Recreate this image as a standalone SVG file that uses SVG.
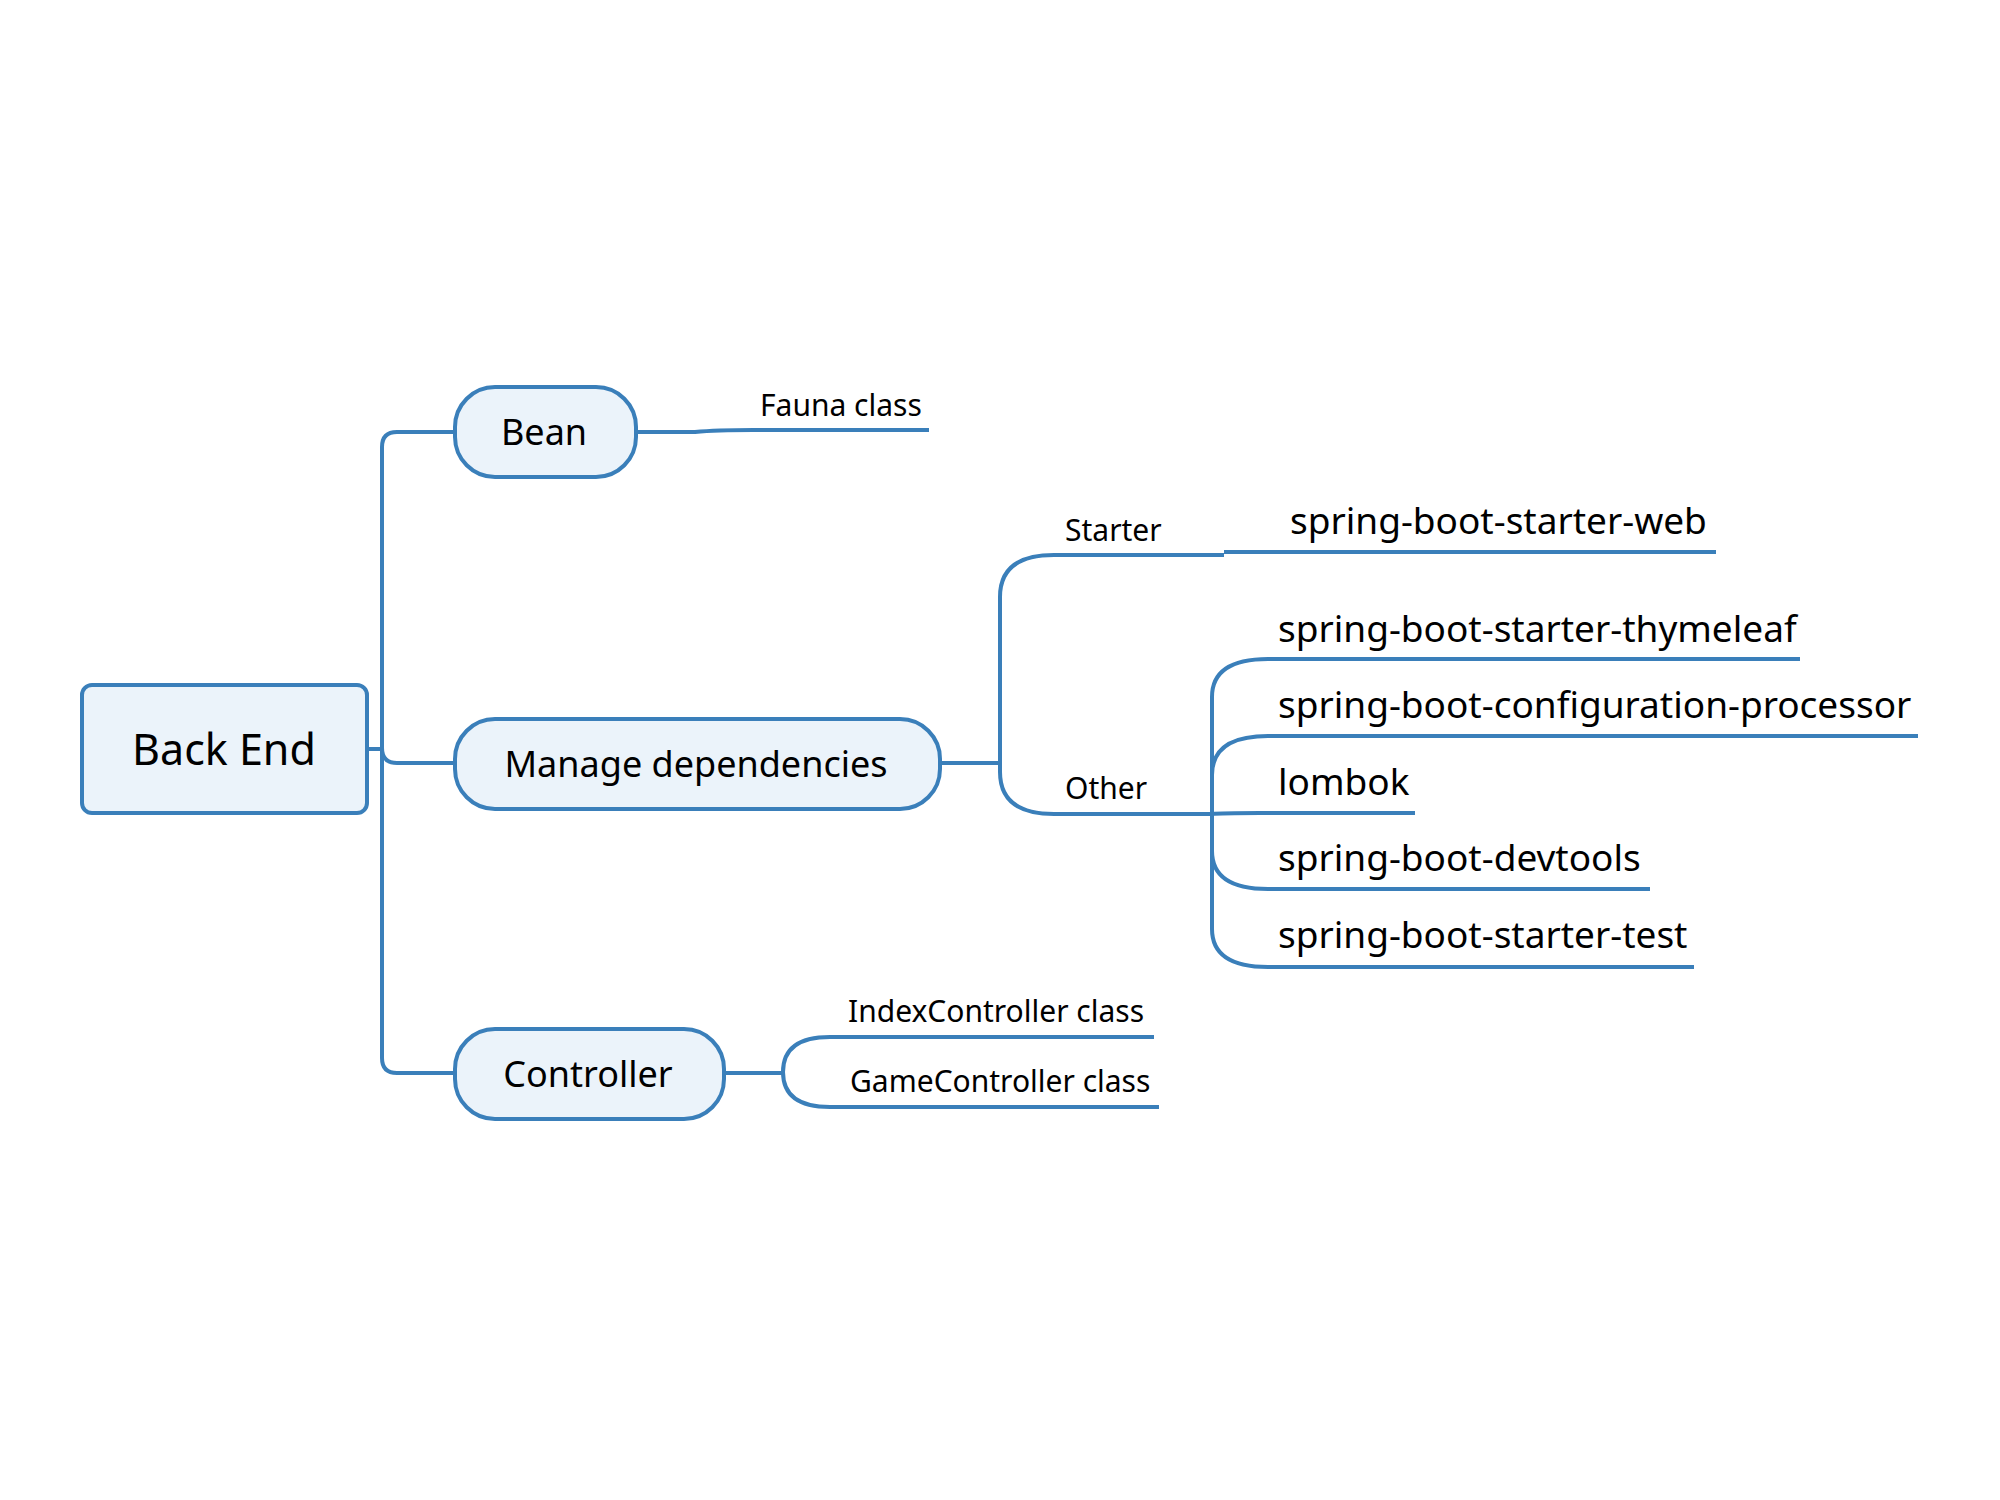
<svg xmlns="http://www.w3.org/2000/svg" width="2000" height="1500" viewBox="0 0 2000 1500">
<style>
.node{fill:#EBF3FA;stroke:#3A7FBA;stroke-width:4}
.c{fill:none;stroke:#3A7FBA;stroke-width:4}
text{font-family:"Noto Sans","Open Sans",sans-serif;fill:#000}
.t1{font-size:43px}
.t2{font-size:36px}
.t3{font-size:37px}
.t4{font-size:30px}
</style>
<rect width="2000" height="1500" fill="#fff"/>
<g id="connectors">
<path class="c" d="M367,749 H382"/>
<path class="c" d="M455,432 H397 Q382,432 382,447 V1058 Q382,1073 397,1073 H455"/>
<path class="c" d="M382,748 Q382,763 397,763 H455"/>
<path class="c" d="M636,432 H695 Q716,430 753,430 H929"/>
<path class="c" d="M940,763 H1000"/>
<path class="c" d="M1224,555 H1054 Q1000,555 1000,597 V772 Q1000,814 1054,814 H1212"/>
<path class="c" d="M1224,552 H1716"/>
<path class="c" d="M1212,814 Q1220,813 1260,813 H1415"/>
<path class="c" d="M1800,659 H1268 Q1212,659 1212,697 V929 Q1212,967 1268,967 H1694"/>
<path class="c" d="M1212,775 Q1212,736 1268,736 H1918"/>
<path class="c" d="M1212,851 Q1212,889 1268,889 H1650"/>
<path class="c" d="M724,1073 H783"/>
<path class="c" d="M1154,1037 H830 Q783,1037 783,1072 Q783,1107 830,1107 H1159"/>
</g>
<g id="back-end"><rect class="node" x="82" y="685" width="285" height="128" rx="10"/><text class="t1" x="224" y="765" text-anchor="middle">Back End</text></g>
<g id="bean"><rect class="node" x="455" y="387" width="181" height="90" rx="40"/><text class="t2" x="544" y="445" text-anchor="middle">Bean</text></g>
<g id="manage"><rect class="node" x="455" y="719" width="485" height="90" rx="40"/><text class="t2" x="696" y="777" text-anchor="middle">Manage dependencies</text></g>
<g id="controller"><rect class="node" x="455" y="1029" width="269" height="90" rx="40"/><text class="t2" x="588" y="1087" text-anchor="middle">Controller</text></g>
<g id="fauna"><text class="t4" x="760" y="416">Fauna class</text></g>
<g id="starter"><text class="t4" x="1065" y="541">Starter</text></g>
<g id="other"><text class="t4" x="1065" y="799">Other</text></g>
<g id="web"><text class="t3" x="1290" y="534">spring-boot-starter-web</text></g>
<g id="thymeleaf"><text class="t3" x="1278" y="642">spring-boot-starter-thymeleaf</text></g>
<g id="config"><text class="t3" x="1278" y="718">spring-boot-configuration-processor</text></g>
<g id="lombok"><text class="t3" x="1278" y="795">lombok</text></g>
<g id="devtools"><text class="t3" x="1278" y="871">spring-boot-devtools</text></g>
<g id="test"><text class="t3" x="1278" y="948">spring-boot-starter-test</text></g>
<g id="index"><text class="t4" x="848" y="1022">IndexController class</text></g>
<g id="game"><text class="t4" x="850" y="1092">GameController class</text></g>
</svg>
